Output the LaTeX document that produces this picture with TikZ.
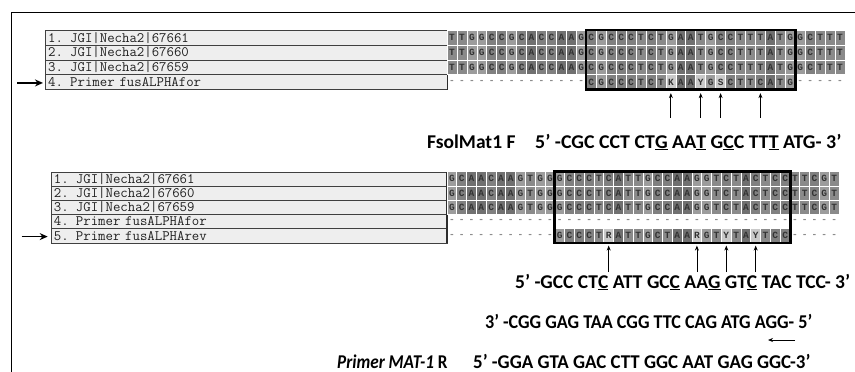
\documentclass[tikz,border=0pt]{standalone}
\usepackage{fontspec}
\setmainfont{Carlito}
\newfontfamily\seqfont{Liberation Mono}
\usetikzlibrary{arrows.meta,calc}

\tikzset{
  base/.style={inner sep=0pt, draw=white, line width=0.7pt, text=black!80,
    font=\seqfont\bfseries\fontsize{9.5}{9.5}\selectfont},
  base A/.style={base, fill=gray!88!black},
  base C/.style={base, fill=gray},
  base G/.style={base, fill=gray!78},
  base T/.style={base, fill=gray!92},
  base K/.style={base, fill=gray!42},
  base Y/.style={base, fill=gray!42},
  base S/.style={base, fill=gray!42},
  base R/.style={base, fill=gray!42},
  base -/.style={base, draw=none, text=gray!90},
  namebox/.style={draw=gray!50!black, fill=gray!13, anchor=west, inner xsep=2pt,
    inner ysep=0pt, align=left, text=gray!25!black,
    font=\ttfamily\fontsize{14.4}{14}\selectfont},
  primertext/.style={anchor=base west, inner sep=0pt,
    font=\fontsize{19.5}{22}\selectfont\bfseries},
  hitbox/.style={line width=2.6pt},
  edge/.style={line width=1.6pt, gray!35!black},
  pointer/.style={-{Stealth[length=8pt,width=7pt]}, line width=1.5pt},
  marker/.style={-{Stealth[length=5pt,width=4pt]}, line width=0.8pt}
}

% one alignment row: name, left x, centre y, cell width, cell height, letters
\makeatletter
\newcount\seq@n
\newcommand\seqrow[6]{%
  \def\seq@name{#1}\def\seq@x{#2}\def\seq@y{#3}\def\seq@w{#4}\def\seq@h{#5}%
  \seq@n=0 \seq@next#6\@nil}
\def\seq@next#1{%
  \ifx#1\@nil\else
    \advance\seq@n by 1
    \node[base #1, minimum width=\seq@w pt, minimum height=\seq@h pt]
      (\seq@name-\the\seq@n) at ({\seq@x+\seq@w*(\the\seq@n-0.5)},\seq@y) {#1};%
    \expandafter\seq@next
  \fi}
\makeatother

\begin{document}
\begin{tikzpicture}[x=1pt, y=-1pt]
  \useasboundingbox (0,0) rectangle (855,372);
  \draw[line width=1.4pt] (11.7,372) -- (11.7,12.7) -- (855,12.7);

  % upper alignment
  \node[namebox, minimum width=402pt, minimum height=14.7pt, text width=396pt] (tl1) at (45,37.85) {1. JGI|Necha2|67661};
  \node[namebox, minimum width=402pt, minimum height=14.7pt, text width=396pt] (tl2) at (45,52.55) {2. JGI|Necha2|67660};
  \node[namebox, minimum width=402pt, minimum height=14.7pt, text width=396pt] (tl3) at (45,67.25) {3. JGI|Necha2|67659};
  \node[namebox, minimum width=402pt, minimum height=14.7pt, text width=396pt] (tl4) at (45,81.95) {4. Primer fusALPHAfor};
  \draw[edge] (tl1.north east) -- (tl4.south east);
  \seqrow{t1}{447}{37.85}{9.95}{14.7}{TTGGCCGCACCAAGCGCCCTCTGAATGCCTTTATGGCTTT}
  \seqrow{t2}{447}{52.55}{9.95}{14.7}{TTGGCCGCACCAAGCGCCCTCTGAATGCCTTTATGGCTTT}
  \seqrow{t3}{447}{67.25}{9.95}{14.7}{TTGGCCGCACCAAGCGCCCTCTGAATGCCTTTATGGCTTT}
  \seqrow{t4}{447}{81.95}{9.95}{14.7}{--------------CGCCCTCTKAAYGSCTTCATG-----}
  \draw[hitbox] (t1-15.north west) rectangle (t4-35.south east);
  \coordinate (tp) at ($(tl4.west)+(-28,1)$);
  \draw[pointer, shorten >=2pt] (tp) -- (tl4.west |- tp);
  \foreach \c in {23,26,28,32} {
    \coordinate (tm\c) at ($(t4-\c.south)+(0,28)$);
    \draw[marker, shorten >=3.5pt] (tm\c) -- (t4-\c.south);
  }
  \node[primertext] (fname) at (427,148) {FsolMat1 F};
  \node[primertext] (fseq) at (535,148) {\scalebox{1.02}[1]{5’ -CGC CCT CT\underline{G} AA\underline{T} G\underline{C}C TT\underline{T} ATG- 3’}};

  % lower alignment
  \node[namebox, minimum width=396pt, minimum height=14.2pt, text width=390pt] (bl1) at (50.7,178.8) {1. JGI|Necha2|67661};
  \node[namebox, minimum width=396pt, minimum height=14.2pt, text width=390pt] (bl2) at (50.7,193.0) {2. JGI|Necha2|67660};
  \node[namebox, minimum width=396pt, minimum height=14.2pt, text width=390pt] (bl3) at (50.7,207.2) {3. JGI|Necha2|67659};
  \node[namebox, minimum width=396pt, minimum height=14.2pt, text width=390pt] (bl4) at (50.7,221.4) {4. Primer fusALPHAfor};
  \node[namebox, minimum width=396pt, minimum height=14.2pt, text width=390pt] (bl5) at (50.7,235.6) {5. Primer fusALPHArev};
  \draw[edge] (bl1.north east) -- (bl5.south east);
  \seqrow{b1}{447}{178.8}{9.8}{14.2}{GCAACAAGTGGGCCCTCATTGCCAAGGTCTACTCCTTCGT}
  \seqrow{b2}{447}{193.0}{9.8}{14.2}{GCAACAAGTGGGCCCTCATTGCCAAGGTCTACTCCTTCGT}
  \seqrow{b3}{447}{207.2}{9.8}{14.2}{GCAACAAGTGGGCCCTCATTGCCAAGGTCTACTCCTTCGT}
  \seqrow{b4}{447}{221.4}{9.8}{14.2}{----------------------------------------}
  \seqrow{b5}{447}{235.6}{9.8}{14.2}{-----------GCCCTRATTGCTAARGTYTAYTCC-----}
  \draw[hitbox] (b1-12.north west) rectangle (b5-35.south east);
  \coordinate (bp) at ($(bl5.west)+(-29,1)$);
  \draw[pointer, shorten >=3pt] (bp) -- (bl5.west |- bp);
  \foreach \c in {17,26,29,32} {
    \coordinate (bm\c) at ($(b5-\c.south)+(0,29)$);
    \draw[marker, shorten >=2.5pt] (bm\c) -- (b5-\c.south);
  }
  \node[primertext] (rseq) at (515,288) {5’ -GCC CT\underline{C} ATT GC\underline{C} AA\underline{G} GT\underline{C} TAC TCC- 3’};
  \node[primertext] (rrev) at (485,328) {\scalebox{0.93}[1]{3’ -CGG GAG TAA CGG TTC CAG ATG AGG- 5’}};
  \coordinate (rtail) at (795,340);
  \coordinate (rtip) at (768,340);
  \draw[marker] (rtail) -- (rtip);
  \node[primertext] (rname) at (337,368) {\scalebox{0.88}[1]{\itshape Primer MAT-1\upshape{} R}};
  \node[primertext] (rprim) at (473,368) {\scalebox{0.97}[1]{5’ -GGA GTA GAC CTT GGC AAT GAG GGC-3’}};
\end{tikzpicture}
\end{document}
